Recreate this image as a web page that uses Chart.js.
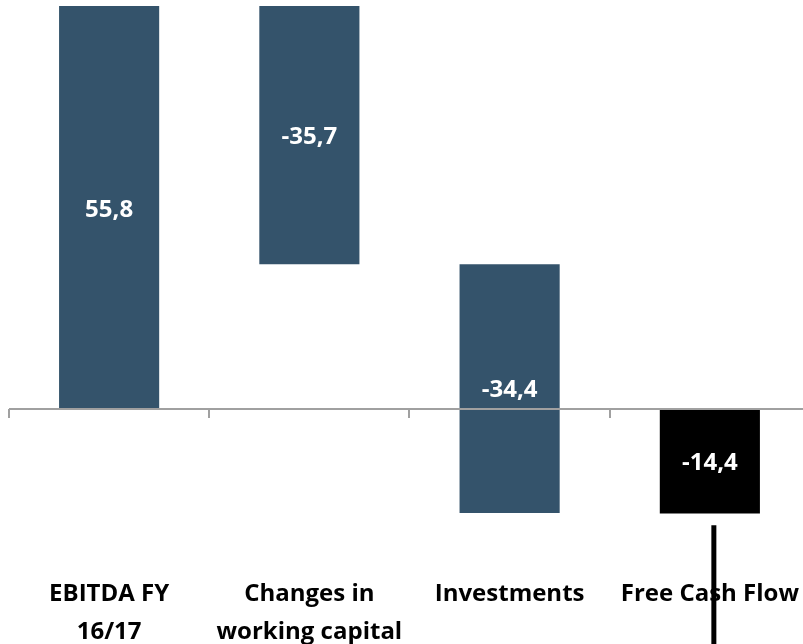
<!DOCTYPE html>
<html>
<head>
<meta charset="utf-8">
<script src="https://cdn.jsdelivr.net/npm/chart.js@4/dist/chart.umd.min.js"></script>
<style>
  html, body { margin: 0; padding: 0; background: #fff; }
  #wrap { width: 803px; height: 644px; overflow: hidden; position: relative; }
  #box { width: 817px; height: 669px; }
</style>
</head>
<body>
<div id="wrap"><div id="box"><canvas id="chart"></canvas></div></div>
<script>
  // waterfall steps, in EUR m
  const categories = [['EBITDA FY', '16/17'], ['Changes in', 'working capital'], ['Investments'], ['Free Cash Flow']];
  const stepValues = [55.8, -35.7, -34.4];
  const totalValue = -14.4;
  const valueLabels = ['55,8', '-35,7', '-34,4', '-14,4'];

  const BAR = '#34536B';
  const AXIS = '#A0A0A0';
  const FONT = "'Open Sans', sans-serif";

  // build floating ranges from the running total
  const ranges = [];
  let running = 0;
  stepValues.forEach(v => {
    ranges.push([running, running + v]);
    running += v;
  });
  ranges.push([0, totalValue]);

  const zeroAxis = {
    id: 'zeroAxis',
    afterDatasetsDraw(chart) {
      const { ctx, chartArea, scales: { x, y } } = chart;

      // value labels in the middle of each bar
      ctx.save();
      ctx.fillStyle = '#fff';
      ctx.font = `bold 24px ${FONT}`;
      ctx.textAlign = 'center';
      ctx.textBaseline = 'middle';
      chart.getDatasetMeta(0).data.forEach((bar, i) => {
        ctx.fillText(valueLabels[i], bar.x, (bar.y + bar.base) / 2 + 2);
      });

      const y0 = Math.round(y.getPixelForValue(0));
      const half = (x.getPixelForValue(1) - x.getPixelForValue(0)) / 2;
      ctx.strokeStyle = AXIS;
      ctx.lineWidth = 2;
      ctx.beginPath();
      ctx.moveTo(chartArea.left, y0);
      ctx.lineTo(chartArea.right, y0);
      for (let i = 0; i <= categories.length; i++) {
        const px = Math.round(x.getPixelForValue(0) - half + i * half * 2);
        ctx.moveTo(px, y0);
        ctx.lineTo(px, y0 + 9);
      }
      ctx.stroke();
      ctx.restore();
    },
    afterDraw(chart) {
      // the stray marker line under the last bar
      const { ctx, scales: { x, y } } = chart;
      const px = x.getPixelForValue(3) + 4;
      ctx.save();
      ctx.strokeStyle = '#000';
      ctx.lineWidth = 5;
      ctx.beginPath();
      ctx.moveTo(px, y.getPixelForValue(-16));
      ctx.lineTo(px, chart.height);
      ctx.stroke();
      ctx.restore();
    }
  };

  new Chart(document.getElementById('chart'), {
    type: 'bar',
    data: {
      labels: categories,
      datasets: [{
        data: ranges,
        backgroundColor: [BAR, BAR, BAR, '#000'],
        borderWidth: 0,
        categoryPercentage: 1,
        barPercentage: 0.5,
      }],
    },
    options: {
      responsive: true, maintainAspectRatio: false, animation: false,
      layout: { padding: { left: 9, top: 6, right: 0, bottom: 0 } },
      plugins: { legend: { display: false }, tooltip: { enabled: false } },
      scales: {
        x: {
          grid: { display: false, drawTicks: false },
          border: { display: false },
          ticks: {
            color: '#000', padding: 18, maxRotation: 0, autoSkip: false,
            font: { family: FONT, size: 24, weight: 'bold', lineHeight: '38px' },
          },
        },
        y: { display: false, min: -20.4, max: 55.8 },
      },
    },
    plugins: [zeroAxis],
  });
</script>
</body>
</html>
